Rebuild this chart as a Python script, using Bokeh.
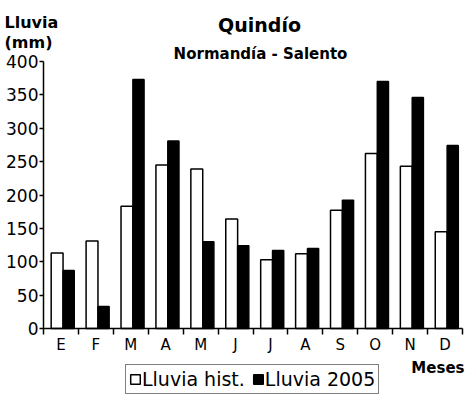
import numpy as np
from bokeh.plotting import figure
from bokeh.models import (ColumnDataSource, Range1d, FixedTicker, Label, Legend, LegendItem)
from bokeh.transform import dodge
from bokeh.embed import file_html
from bokeh.resources import INLINE

months = ["E", "F", "M", "A", "M", "J", "J", "A", "S", "O", "N", "D"]
lluvia_hist = [113, 131, 183, 245, 239, 164, 103, 112, 177, 262, 243, 145]
lluvia_2005 = [87, 33, 373, 281, 130, 124, 117, 120, 192, 370, 346, 274]
y_ticks = [0, 50, 100, 150, 200, 250, 300, 350, 400]

FONT = "DejaVu Sans"

W, H = 465, 395
# pixel margins of the plotting area inside the canvas
ML, MR, MT, MB = 43, 3, 61, 67
n = len(months)
ymax = 400
xpx = (W - ML - MR) / n
ypx = (H - MT - MB) / ymax

pos = np.arange(n) + 0.5
src = ColumnDataSource(dict(x=pos, hist=lluvia_hist, y2005=lluvia_2005))

p = figure(width=W, height=H, output_backend="svg", toolbar_location=None,
           x_range=Range1d(-ML / xpx, n + MR / xpx),
           y_range=Range1d(-MB / ypx, ymax + MT / ypx),
           min_border=0)
p.outline_line_color = None
p.xgrid.visible = False
p.ygrid.visible = False

r1 = p.vbar(x=dodge("x", -0.11), top="hist", width=0.34, source=src,
            fill_color="white", line_color="black", line_width=1.5)
r2 = p.vbar(x=dodge("x", 0.22), top="y2005", width=0.32, source=src,
            fill_color="black", line_color="black", line_width=1.5)

# x axis
xa = p.xaxis[0]
xa.fixed_location = 0
xa.bounds = (0, n)
xa.ticker = FixedTicker(ticks=list(pos), minor_ticks=list(range(n + 1)))
xa.major_label_overrides = {float(v): m for v, m in zip(pos, months)}
xa.major_tick_line_color = None
xa.major_tick_out = 0
xa.major_tick_in = 0
xa.minor_tick_line_color = "black"
xa.minor_tick_line_width = 1.5
xa.minor_tick_out = 6
xa.minor_tick_in = 0
xa.major_label_standoff = 1
xa.major_label_text_font = FONT
xa.major_label_text_font_size = "15px"
xa.major_label_text_color = "black"
xa.axis_line_color = "black"
xa.axis_line_width = 1.5

# y axis
ya = p.yaxis[0]
ya.fixed_location = 0
ya.bounds = (0, ymax)
ya.ticker = FixedTicker(ticks=y_ticks)
ya.minor_tick_line_color = None
ya.major_tick_out = 4
ya.major_tick_in = 0
ya.major_tick_line_width = 1.5
ya.major_label_standoff = 1
ya.major_label_text_font = FONT
ya.major_label_text_font_size = "17px"
ya.major_label_text_color = "black"
ya.axis_line_color = "black"
ya.axis_line_width = 1.5

def lab(text, x, y, size, bold=True, align="left"):
    p.add_layout(Label(text=text, x=x, y=y, x_units="screen", y_units="screen",
                       text_font=FONT, text_font_size=size,
                       text_font_style="bold" if bold else "normal",
                       text_align=align, text_baseline="alphabetic",
                       text_color="black"))

lab("Quindío", 259, 371, "19px", align="center")
lab("Normandía - Salento", 260, 342, "15px", align="center")
lab("Lluvia", 4, 373, "16px")
lab("(mm)", 4, 353, "16px")
lab("Meses", 464, 28, "15px", align="right")

legend = Legend(items=[LegendItem(label="Lluvia hist.", renderers=[r1]),
                       LegendItem(label="Lluvia 2005", renderers=[r2])],
                orientation="horizontal", location=(125, 1),
                glyph_width=12, glyph_height=12, label_standoff=1, spacing=7,
                padding=3, margin=0,
                label_text_font=FONT, label_text_font_size="19px",
                label_text_color="black",
                border_line_color="black", border_line_width=1.5,
                background_fill_color="white", background_fill_alpha=1)
p.add_layout(legend, "center")

open("out.html", "w").write(file_html(p, INLINE))
